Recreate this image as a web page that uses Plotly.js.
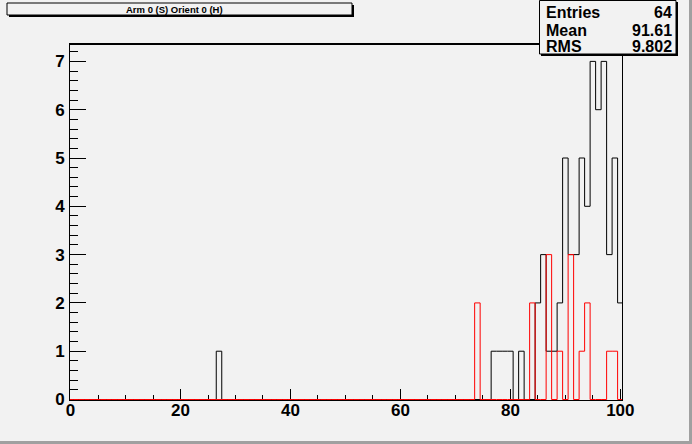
<!DOCTYPE html>
<html>
<head>
<meta charset="utf-8">
<script src="https://cdn.plot.ly/plotly-3.0.1.min.js"></script>
<style>
  html, body { margin: 0; padding: 0; background: #f2f2f2; }
  #chart { width: 692px; height: 444px; }
</style>
</head>
<body>
<div id="chart"></div>
<script>
// ---- data ----
const chartTitle = "Arm 0 (S) Orient 0 (H)";
const statLabels = ["Entries", "Mean", "RMS"];
const statValues = ["64", "91.61", "9.802"];

const blackBins   = [27, 77, 78, 79, 80, 82, 85, 86, 87, 88, 89, 90, 91, 92, 93, 94, 95, 96, 97, 98, 99, 100];
const blackCounts = [ 1,  1,  1,  1,  1,  1,  2,  3,  1,  1,  2,  5,  3,  3,  5,  4,  7,  6,  7,  3,  5,   2];

const redBins   = [74, 84, 87, 89, 91, 93, 94, 98, 99];
const redCounts = [ 2,  2,  3,  1,  3,  1,  2,  1,  1];

const xTickVals = [0, 20, 40, 60, 80, 100];
const yTickVals = [0, 1, 2, 3, 4, 5, 6, 7];

// ---- histogram step lines built from the bins (unit-width bins centred on integers) ----
function stepTrace(bins, counts, color) {
  const full = new Array(101).fill(0);
  bins.forEach((b, i) => { full[b] = counts[i]; });
  const xs = [], ys = [];
  for (let k = 0; k <= 100; k++) { xs.push(k - 0.5); ys.push(full[k]); }
  xs.push(100.5); ys.push(0);
  return {
    type: "scatter", mode: "lines", x: xs, y: ys,
    line: { shape: "hv", color: color, width: 1 },
    hoverinfo: "skip", showlegend: false
  };
}

// ---- pixel -> paper helpers for the decorations ----
const L = 70, T = 44, W = 552, H = 356;
const px = v => (v - L) / W;
const py = v => (T + H - v) / H;

const boldFont = (size) => ({ family: "Liberation Sans, Arial, sans-serif", size: size, color: "black", weight: "bold" });

function line(x0, y0, x1, y1, w, c) {
  return { type: "line", xref: "paper", yref: "paper", x0: px(x0), y0: py(y0), x1: px(x1), y1: py(y1),
           line: { color: c || "black", width: w } };
}
function rect(x0, y0, x1, y1, w, fill) {
  return { type: "rect", xref: "paper", yref: "paper", x0: px(x0), y0: py(y0), x1: px(x1), y1: py(y1),
           line: { color: "black", width: w }, fillcolor: fill };
}

const shapes = [
  // frame top (thicker)
  line(70, 44, 622, 44, 2),
  // title box + shadow
  rect(7, 3, 352, 15, 1, "#f2f2f2"),
  line(353, 5, 353, 16.5, 2),
  line(9, 16, 354, 16, 2),
  // stats box + shadow
  rect(539.5, 0.5, 676, 54, 1, "#f2f2f2"),
  line(677, 2, 677, 55.5, 2),
  line(541, 55, 678, 55, 2),
  // canvas border
  line(690.5, 0, 690.5, 444, 3, "#a0a0a0"),
  line(0, 442.5, 692, 442.5, 3, "#a0a0a0")
];

const annotations = [
  { xref: "paper", yref: "paper", x: px(174), y: py(9), text: chartTitle, showarrow: false,
    xanchor: "center", yanchor: "middle", font: boldFont(9.5) }
];
const rowY = [12.5, 30, 47];
statLabels.forEach((lab, i) => {
  annotations.push({ xref: "paper", yref: "paper", x: px(544), y: py(rowY[i]), text: lab, showarrow: false,
    xanchor: "left", yanchor: "middle", font: boldFont(16) });
  annotations.push({ xref: "paper", yref: "paper", x: px(674), y: py(rowY[i]), text: statValues[i], showarrow: false,
    xanchor: "right", yanchor: "middle", font: boldFont(16) });
});

const data = [
  stepTrace(blackBins, blackCounts, "black"),
  stepTrace(redBins, redCounts, "#ff0000")
];

const layout = {
  width: 692, height: 444,
  margin: { l: L, r: 692 - L - W, t: T, b: 444 - T - H, pad: 0 },
  paper_bgcolor: "#f2f2f2", plot_bgcolor: "#f2f2f2",
  showlegend: false,
  xaxis: {
    range: [-0.1, 100.3], showgrid: false, zeroline: false,
    showline: true, mirror: true, linecolor: "black", linewidth: 1, layer: "below traces",
    tickmode: "array", tickvals: xTickVals, ticktext: xTickVals.map(String),
    ticks: "inside", ticklen: 11, tickwidth: 1, tickcolor: "black",
    minor: { dtick: 5, tick0: 0, ticks: "inside", ticklen: 5, tickwidth: 1, tickcolor: "black", showgrid: false },
    tickfont: boldFont(17), ticklabelstandoff: -5
  },
  yaxis: {
    range: [-0.01, 7.36], showgrid: false, zeroline: false,
    showline: true, mirror: true, linecolor: "black", linewidth: 1, layer: "below traces",
    tickmode: "array", tickvals: yTickVals, ticktext: yTickVals.map(String),
    ticks: "inside", ticklen: 16, tickwidth: 1, tickcolor: "black",
    minor: { dtick: 0.2, tick0: 0, ticks: "inside", ticklen: 8, tickwidth: 1, tickcolor: "black", showgrid: false },
    tickfont: boldFont(17), ticklabelstandoff: 1
  },
  shapes: shapes,
  annotations: annotations
};

Plotly.newPlot("chart", data, layout, { staticPlot: true, displayModeBar: false });
</script>
</body>
</html>
